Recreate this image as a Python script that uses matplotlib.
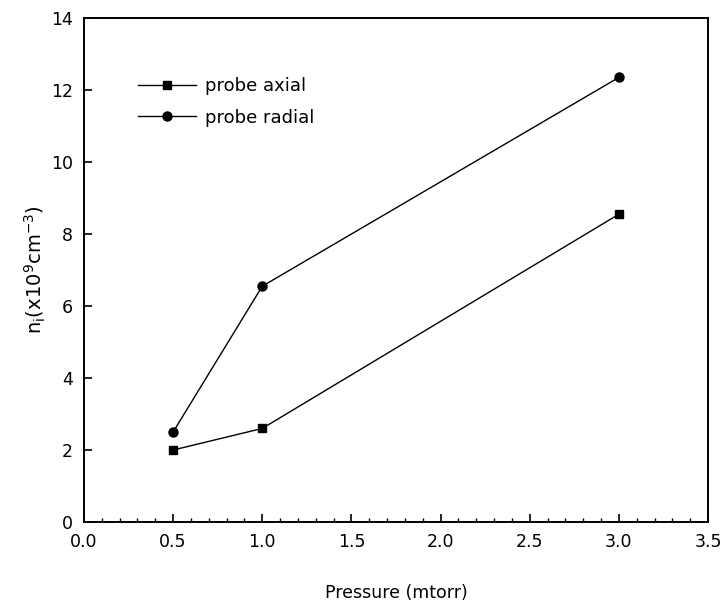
import numpy as np
import matplotlib.pyplot as plt
from matplotlib.ticker import MultipleLocator

pressure = [0.5, 1.0, 3.0]
axial = [2.0, 2.6, 8.55]
radial = [2.5, 6.55, 12.35]

plt.rcParams['font.family'] = ['DejaVu Sans']
plt.rcParams['font.size'] = 12.5

fig = plt.figure(figsize=(7.22, 6.01), dpi=100)
ax = fig.add_axes([0.1163, 0.1314, 0.8643, 0.8386])

ax.plot(pressure, axial, color='k', lw=1.0, marker='s', ms=6, label='probe axial')
ax.plot(pressure, radial, color='k', lw=1.0, marker='o', ms=6.5, label='probe radial')

ax.set_xlim(0, 3.5)
ax.set_ylim(0, 14)
ax.xaxis.set_major_locator(MultipleLocator(0.5))
ax.xaxis.set_minor_locator(MultipleLocator(0.1))
ax.yaxis.set_major_locator(MultipleLocator(2))
ax.xaxis.set_major_formatter(plt.FormatStrFormatter('%.1f'))
ax.tick_params(direction='in', which='major', length=6, width=1.2, pad=8)
ax.tick_params(direction='in', which='minor', length=3, width=1.0)
for s in ax.spines.values():
    s.set_linewidth(1.4)

ax.set_xlabel('Pressure (mtorr)', labelpad=24)
ax.set_ylabel(r'n$_\mathregular{i}$(x10$^\mathregular{9}$cm$^\mathregular{-3}$)',
              fontsize=14, labelpad=2)

ax.legend(loc='upper left', bbox_to_anchor=(0.075, 0.897), frameon=False, fontsize=13,
          handlelength=3.2, handletextpad=0.5, labelspacing=0.75, borderaxespad=0)

plt.savefig('out.png', dpi=100)
